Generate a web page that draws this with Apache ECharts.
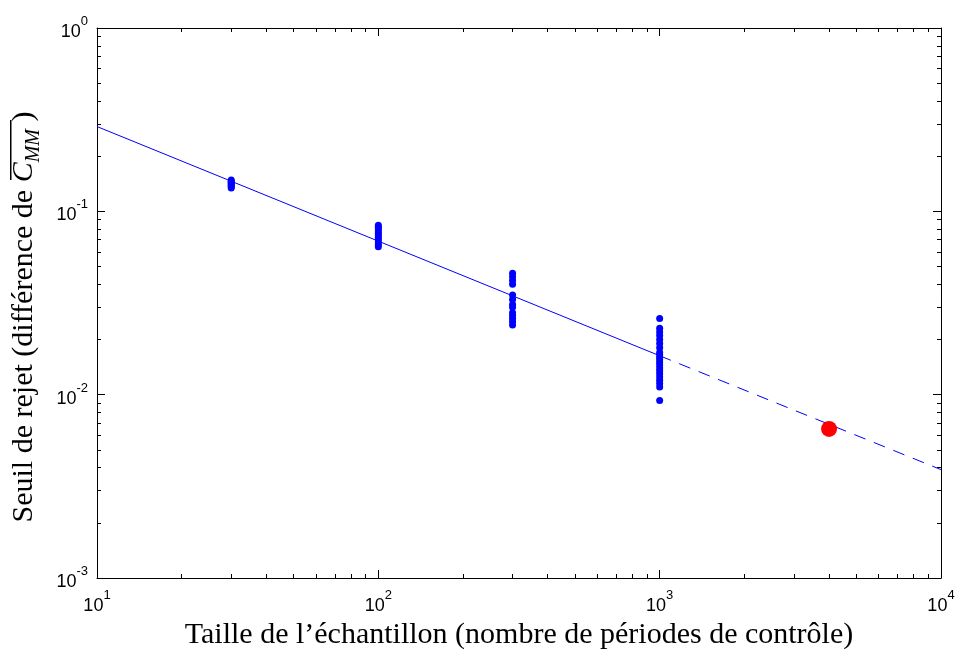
<!DOCTYPE html>
<html>
<head>
<meta charset="utf-8">
<script src="https://cdn.jsdelivr.net/npm/echarts@6/dist/echarts.min.js"></script>
<style>html,body{margin:0;padding:0;background:#fff}#c{width:957px;height:650px}</style>
</head>
<body>
<div id="c"></div>
<script>
// Sample sizes (x) and rejection thresholds (y)
const sampleSizes = [30, 100, 300, 1000];
const thresholds30 = [0.148, 0.146, 0.144, 0.142, 0.140, 0.138, 0.136, 0.134];
const thresholds100 = [0.084, 0.082, 0.080, 0.078, 0.076, 0.074, 0.072, 0.070, 0.068, 0.066, 0.064];
const thresholds300 = [0.046, 0.044, 0.042, 0.040, 0.035, 0.033, 0.031, 0.030, 0.028, 0.027, 0.026, 0.025, 0.024];
const thresholds1000 = [0.026, 0.023, 0.022, 0.021, 0.020, 0.019, 0.018, 0.017, 0.0165, 0.016, 0.0155, 0.015, 0.0145, 0.014, 0.0135, 0.013, 0.0125, 0.012, 0.0115, 0.011, 0.0093];
// Fitted power-law line (solid part) and its extrapolation (dashed part)
const fitX = [10, 1000];
const fitY = [0.29, 0.0163];
const extrapX = [1000, 10000];
const extrapY = [0.0163, 0.0039];
// Highlighted point
const redX = [4000];
const redY = [0.0065];
// Axis ticks
const xMajorTicks = [10, 100, 1000, 10000];
const yMajorTicks = [0.001, 0.01, 0.1, 1];
const xMinorTicks = [20,30,40,50,60,70,80,90,200,300,400,500,600,700,800,900,2000,3000,4000,5000,6000,7000,8000,9000];
const yMinorTicks = [0.002,0.003,0.004,0.005,0.006,0.007,0.008,0.009,0.02,0.03,0.04,0.05,0.06,0.07,0.08,0.09,0.2,0.3,0.4,0.5,0.6,0.7,0.8,0.9];

const groups = [thresholds30, thresholds100, thresholds300, thresholds1000];
const scatterData = [];
groups.forEach((arr, i) => arr.forEach(v => scatterData.push([sampleSizes[i], v])));

const chart = echarts.init(document.getElementById('c'), null, {renderer: 'canvas'});

const labelRich = {
  b: {fontFamily: 'Liberation Sans', fontSize: 18, color: '#000', lineHeight: 26, verticalAlign: 'bottom'},
  s: {fontFamily: 'Liberation Sans', fontSize: 13, color: '#000', lineHeight: 26, verticalAlign: 'top'}
};
function fmt(v) {
  const e = Math.round(Math.log10(v));
  return '{b|10}{s|' + e + '}';
}
const axisCommon = {type: 'log', logBase: 10, splitLine: {show: false}, minorTick: {show: false}};

function xAxisDef(pos, major, withLabels, withLine) {
  return Object.assign({}, axisCommon, {
    position: pos, min: 10, max: 10000, offset: 0,
    axisLine: {show: withLine, onZero: false, lineStyle: {color: '#000', width: 1}},
    axisTick: {show: true, inside: true, length: major ? 8 : 4, lineStyle: {color: '#000', width: 1},
      customValues: major ? xMajorTicks : xMinorTicks},
    axisLabel: withLabels ? {show: true, formatter: fmt, rich: labelRich, margin: 11, customValues: xMajorTicks} : {show: false}
  });
}
function yAxisDef(pos, major, withLabels, withLine) {
  return Object.assign({}, axisCommon, {
    position: pos, min: 0.001, max: 1, offset: 0,
    axisLine: {show: withLine, onZero: false, lineStyle: {color: '#000', width: 1}},
    axisTick: {show: true, inside: true, length: major ? 8 : 4, lineStyle: {color: '#000', width: 1},
      customValues: major ? yMajorTicks : yMinorTicks},
    axisLabel: withLabels ? {show: true, formatter: fmt, rich: labelRich, margin: 9, customValues: yMajorTicks} : {show: false}
  });
}

const xAxes = [xAxisDef('bottom', true, true, true), xAxisDef('bottom', false, false, false),
               xAxisDef('top', true, false, true), xAxisDef('top', false, false, false)];
xAxes[0].name = 'Taille de l\u2019\u00e9chantillon (nombre de p\u00e9riodes de contr\u00f4le)';
xAxes[0].nameLocation = 'middle';
xAxes[0].nameGap = 40;
xAxes[0].nameTextStyle = {fontFamily: 'Liberation Serif', fontSize: 30, color: '#000'};

const yAxes = [yAxisDef('left', true, true, true), yAxisDef('left', false, false, false),
               yAxisDef('right', true, false, true), yAxisDef('right', false, false, false)];
yAxes[0].name = '{n|Seuil de rejet (diff\u00e9rence de }{it|C}{sub|MM}{n| )}';
yAxes[0].nameLocation = 'middle';
yAxes[0].nameRotate = 90;
yAxes[0].nameGap = 58;
yAxes[0].nameTextStyle = {
  color: '#000',
  padding: [0, 28, 0, 0],
  rich: {
    n: {fontFamily: 'Liberation Serif', fontSize: 30, color: '#000', lineHeight: 34, verticalAlign: 'bottom'},
    it: {fontFamily: 'Liberation Serif', fontStyle: 'italic', fontSize: 30, color: '#000', lineHeight: 34, verticalAlign: 'bottom'},
    sub: {fontFamily: 'Liberation Serif', fontStyle: 'italic', fontSize: 20, color: '#000', lineHeight: 34, verticalAlign: 'bottom', padding: [0, 0, -5, 0]}
  }
};

chart.setOption({
  animation: false,
  backgroundColor: '#fff',
  grid: {left: 97, right: 16, top: 28, bottom: 72, containLabel: false, outerBoundsMode: 'none'},
  xAxis: xAxes,
  yAxis: yAxes,
  graphic: [
    {type: 'rect', left: 10, top: 120, shape: {width: 1.5, height: 60}, style: {fill: '#000'}, z: 100}
  ],
  series: [
    {type: 'line', data: fitX.map((x, i) => [x, fitY[i]]), showSymbol: false, symbol: 'none',
     lineStyle: {color: '#0000ff', width: 1}, z: 2},
    {type: 'line', data: extrapX.map((x, i) => [x, extrapY[i]]), showSymbol: false, symbol: 'none',
     lineStyle: {color: '#0000ff', width: 1, type: [12, 9]}, z: 2},
    {type: 'scatter', data: scatterData, symbol: 'circle', symbolSize: 7,
     itemStyle: {color: '#0000ff', opacity: 1}, z: 3},
    {type: 'scatter', data: redX.map((x, i) => [x, redY[i]]), symbol: 'circle', symbolSize: 16,
     itemStyle: {color: '#ff0000', opacity: 1}, z: 4}
  ]
});
</script>
</body>
</html>
